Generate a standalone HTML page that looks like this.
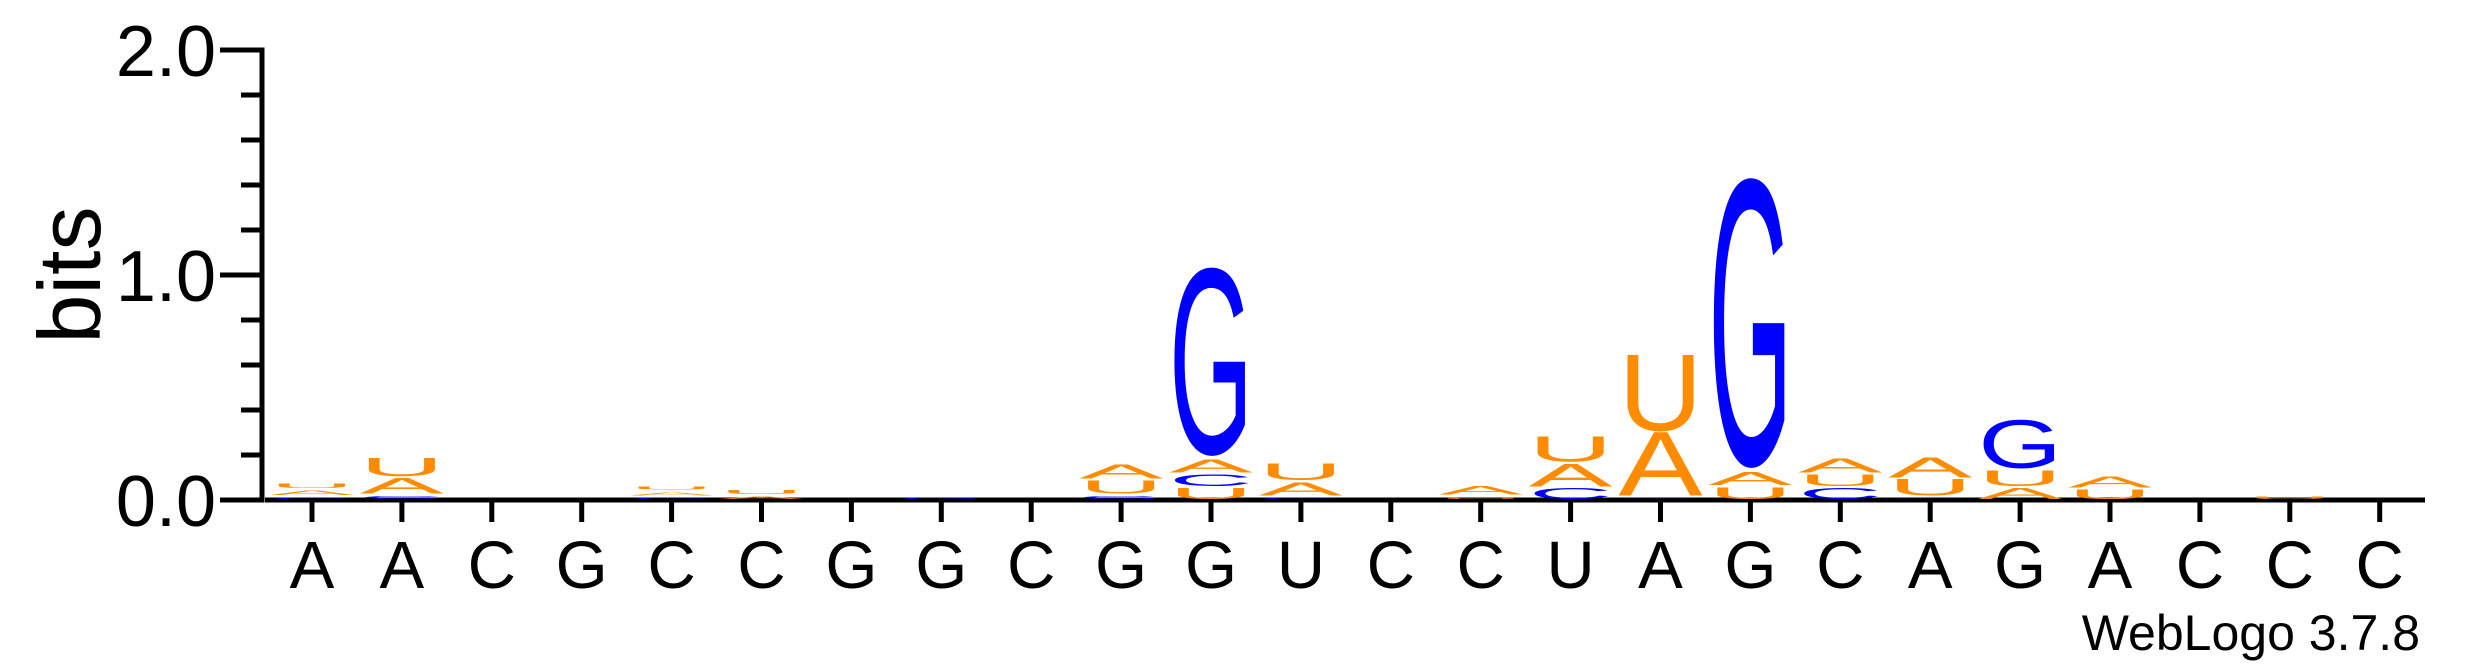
<!DOCTYPE html>
<html><head><meta charset="utf-8"><style>
html,body{margin:0;padding:0;background:#fff;}
svg{display:block;}
text{font-family:"Liberation Sans",Arial,sans-serif;}
</style></head><body>
<svg id="logo" width="2475" height="667" viewBox="0 0 2475 667" xmlns="http://www.w3.org/2000/svg">
<g id="axes"></g>
<g id="stacks"></g>
<text x="0" y="0" font-size="88" text-anchor="middle" transform="translate(100,275) rotate(-90)">bits</text>
<text x="2420" y="650" font-size="50" text-anchor="end">WebLogo 3.7.8</text>
</svg>
<script>
const positions = ["A","A","C","G","C","C","G","G","C","G","G","U","C","C","U","A","G","C","A","G","A","C","C","C"];
const bitsA = [0.018,0.065,0,0,0.014,0.01,0,0,0,0.06,0.055,0.055,0,0.035,0.095,0.27,0.055,0.06,0.085,0.045,0.045,0,0,0];
const bitsC = [0.006,0.012,0,0,0.005,0,0,0,0,0,0.05,0.004,0,0,0.045,0.003,0,0.045,0.003,0,0,0,0,0];
const bitsG = [0,0,0,0,0,0,0,0.006,0,0.012,0.78,0,0,0,0,0,1.2,0,0,0.2,0,0,0,0];
const bitsU = [0.018,0.075,0,0,0.014,0.016,0,0,0,0.055,0.045,0.07,0,0.008,0.105,0.32,0.05,0.05,0.07,0.065,0.04,0,0.01,0];
const yTicks = [0,1,2];
const yTickLabels = ["0.0","1.0","2.0"];

const NS="http://www.w3.org/2000/svg";
const x0=312, dx=89.9, yBase=500, pxPerBit=225;
const xPos = i => x0 + i*dx;
const yPos = b => yBase - b*pxPerBit;
const colors = {A:"#ff8c00",U:"#ff8c00",G:"#0000ff",C:"#0000ff"};

const axes=document.getElementById('axes');
function line(x1,y1,x2,y2,w,name){
  const l=document.createElementNS(NS,'line');
  l.setAttribute('x1',x1);l.setAttribute('y1',y1);l.setAttribute('x2',x2);l.setAttribute('y2',y2);
  l.setAttribute('stroke','#000');l.setAttribute('stroke-width',w);
  
  
  axes.appendChild(l);
}
line(262,yPos(2)-2.5,262,yBase+2.5,5,'y-axis-line');
line(265,yBase,2425,yBase,5,'x-axis-line');
for(let k=0;k<=10;k++){
  const b=k*0.2, major=(k%5===0);
  line(major?220:241,yPos(b),262,yPos(b),5,major?'y-major-tick':'y-minor-tick');
}
yTicks.forEach((v,i)=>{
  const t=document.createElementNS(NS,'text');
  t.setAttribute('x',216);t.setAttribute('y',yPos(v)+26);
  t.setAttribute('font-size','72');t.setAttribute('text-anchor','end');
  t.textContent=yTickLabels[i];
  
  
  axes.appendChild(t);
});
positions.forEach((p,i)=>{
  line(xPos(i),yBase,xPos(i),522,5,'x-tick');
  const t=document.createElementNS(NS,'text');
  t.setAttribute('x',xPos(i));t.setAttribute('y',588);
  t.setAttribute('font-size','67');t.setAttribute('text-anchor','middle');
  t.textContent=p;
  
  
  axes.appendChild(t);
});

const stacks=document.getElementById('stacks');
const CAP=66, W=84;
positions.forEach((p,i)=>{
  const items=[['A',bitsA[i]],['C',bitsC[i]],['G',bitsG[i]],['U',bitsU[i]]].filter(d=>d[1]>0).sort((a,b)=>a[1]-b[1]);
  let acc=0.004;
  items.forEach(([letter,b])=>{
    const h=b*pxPerBit;
    const bottom=yPos(acc);
    const sy=Math.max(h,0.3)/CAP;
    const t=document.createElementNS(NS,'text');
    t.setAttribute('x',0);t.setAttribute('y',0);
    t.setAttribute('font-size','100');
    t.setAttribute('textLength',W);t.setAttribute('lengthAdjust','spacingAndGlyphs');
    t.setAttribute('fill',colors[letter]);
    const ov=(letter==='A')?0:1.5*sy;
    t.setAttribute('transform',`translate(${xPos(i)-W/2},${bottom-ov}) scale(1,${sy})`);
    t.textContent=letter;
    
    
    stacks.appendChild(t);
    acc+=b+0.012;
  });
});
</script>
</body></html>
